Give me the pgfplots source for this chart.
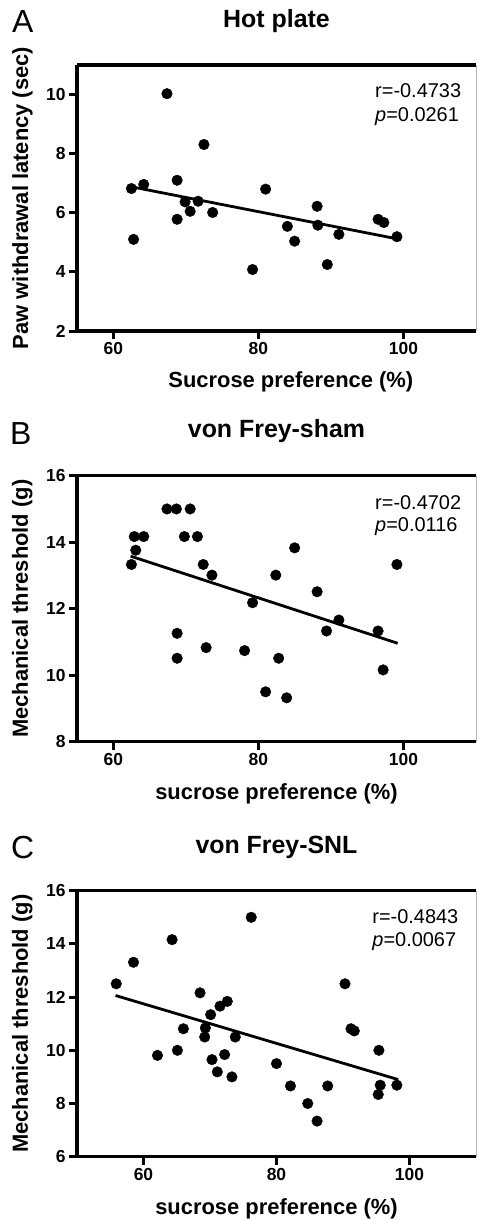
\documentclass[border=0pt]{standalone}
\usepackage{fontspec}
\setmainfont{Liberation Sans}
\usepackage{pgfplots}
\pgfplotsset{compat=1.18}

\pgfplotsset{
  panel/.style={
    scale only axis, width=399bp, height=266bp,
    anchor=south west,
    xmax=110, xtick={60,80,100},
    axis x line*=box, axis y line*=left,
    axis line style={line width=3.4bp, black},
    tick align=outside, xtick pos=left, ytick pos=left,
    major tick length=8bp,
    every tick/.style={line width=3bp, black},
    /pgf/number format/assume math mode=true,
    tick label style={font=\bfseries\fontsize{17.5}{17.5}\selectfont},
    label style={font=\bfseries\fontsize{22}{22}\selectfont},
    title style={font=\bfseries\fontsize{25}{25}\selectfont,
      at={(axis description cs:0.5,1)}, anchor=base, yshift=32bp},
    xlabel style={at={(axis description cs:0.5,-0.218)}, anchor=base},
    ylabel style={at={(axis description cs:-0.137,0.5)}, anchor=center},
    clip=false,
  },
  dots/.style={only marks, mark=*, mark size=5.3bp, black},
  fit/.style={no marks, line width=2.8bp, black},
}
\tikzset{
  stat/.style={anchor=base west, inner sep=0pt, font=\fontsize{20}{20}\selectfont},
  letter/.style={anchor=base west, inner sep=0pt, font=\fontsize{32}{32}\selectfont},
}

\begin{document}
\begin{tikzpicture}
\useasboundingbox (0,0) rectangle (477bp,-1220bp);

% A: hot plate
\begin{axis}[panel, at={(77bp,-331bp)},
  xmin=55, ymin=2, ymax=11, ytick={2,4,6,8,10},
  title={Hot plate},
  xlabel={Sucrose preference (\%)},
  xlabel style={at={(axis description cs:0.536,-0.214)}},
  ylabel={Paw withdrawal latency (sec)}]
\addplot[dots] coordinates {
  (62.5,6.82) (62.8,5.10) (64.2,6.96) (67.4,10.03) (68.8,7.10)
  (68.8,5.78) (69.9,6.37) (70.6,6.05) (71.7,6.39) (72.5,8.31)
  (73.7,6.01) (79.2,4.08) (81.0,6.80) (84.0,5.54) (85.0,5.04)
  (88.1,6.22) (88.2,5.58) (89.5,4.25) (91.1,5.27) (96.5,5.78)
  (97.3,5.67) (99.1,5.19)
};
\addplot[fit] coordinates {(62.5,6.88) (99.1,5.12)};
\draw[gray!60, line width=0.8bp] (rel axis cs:1,0) -- (rel axis cs:1,1);
\node[stat] at (axis description cs:0.747,0.876) {r=-0.4733};
\node[stat] at (axis description cs:0.747,0.788) {\textit{p}=0.0261};
\end{axis}

% B: von Frey sham
\begin{axis}[panel, at={(77bp,-741.7bp)},
  xmin=55, ymin=8, ymax=16, ytick={8,10,12,14,16},
  title={von Frey-sham},
  xlabel={sucrose preference (\%)},
  ylabel={Mechanical threshold (g)}]
\addplot[dots] coordinates {
  (62.5,13.33) (62.9,14.17) (63.1,13.76) (64.2,14.17) (67.4,15.0)
  (68.7,15.0) (68.8,11.26) (68.8,10.51) (69.8,14.17) (70.6,15.0)
  (71.6,14.17) (72.4,13.33) (72.8,10.83) (73.6,13.01) (78.1,10.74)
  (79.2,12.18) (81.0,9.50) (82.4,13.01) (82.8,10.51) (83.9,9.32)
  (85.0,13.83) (88.1,12.51) (89.4,11.33) (91.1,11.66) (96.5,11.33)
  (97.2,10.16) (99.1,13.33)
};
\addplot[fit] coordinates {(62.4,13.58) (99.2,10.96)};
\draw[gray!60, line width=0.8bp] (rel axis cs:1,0) -- (rel axis cs:1,1);
\node[stat] at (axis description cs:0.747,0.872) {r=-0.4702};
\node[stat] at (axis description cs:0.747,0.790) {\textit{p}=0.0116};
\end{axis}

% C: von Frey SNL
\begin{axis}[panel, at={(77bp,-1156.7bp)},
  xmin=50, ymin=6, ymax=16, ytick={6,8,10,12,14,16},
  title={von Frey-SNL},
  title style={yshift=-1bp},
  xlabel={sucrose preference (\%)},
  ylabel={Mechanical threshold (g)}]
\addplot[dots] coordinates {
  (55.9,12.5) (58.5,13.31) (62.1,9.81) (64.3,14.16) (65.1,10.0)
  (66.0,10.81) (68.5,12.16) (69.3,10.84) (69.2,10.5) (70.1,11.34)
  (70.3,9.65) (71.1,9.19) (71.5,11.66) (72.2,9.84) (72.6,11.84)
  (73.3,9.0) (73.8,10.5) (76.2,15.0) (80.0,9.5) (82.1,8.66)
  (84.7,8.0) (86.1,7.34) (87.7,8.66) (90.3,12.5) (91.2,10.81)
  (91.7,10.73) (95.4,10.0) (95.6,8.69) (95.3,8.34) (98.1,8.69)
};
\addplot[fit] coordinates {(55.8,12.06) (98.3,8.9)};
\draw[gray!60, line width=0.8bp] (rel axis cs:1,0) -- (rel axis cs:1,1);
\node[stat] at (axis description cs:0.74,0.875) {r=-0.4843};
\node[stat] at (axis description cs:0.74,0.792) {\textit{p}=0.0067};
\end{axis}

\node[letter] at (12bp,-32.7bp) {A};
\node[letter] at (10bp,-444bp) {B};
\node[letter] at (11bp,-858bp) {C};
\end{tikzpicture}
\end{document}
